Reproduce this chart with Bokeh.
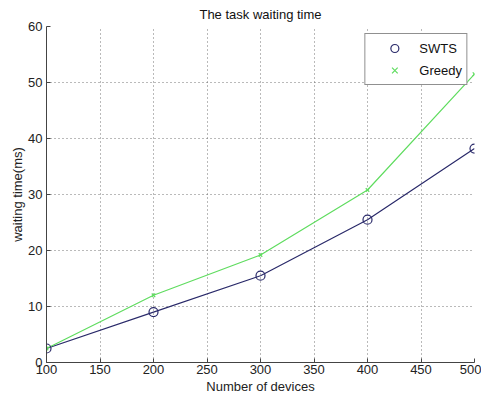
from bokeh.plotting import figure
from bokeh.models import Legend, LegendItem, FixedTicker, Range1d
from bokeh.embed import file_html
from bokeh.resources import INLINE

devices = [100, 200, 300, 400, 500]
swts = [2.5, 9.0, 15.5, 25.5, 38.2]
greedy = [2.5, 12.0, 19.2, 30.8, 51.5]
x_ticks = [100, 150, 200, 250, 300, 350, 400, 450, 500]
y_ticks = [0, 10, 20, 30, 40, 50, 60]

FONT = "Liberation Sans"

p = figure(width=481, height=399, output_backend="svg", toolbar_location=None,
           x_range=Range1d(100, 500), y_range=Range1d(0, 60),
           min_border_left=46, min_border_right=7, min_border_top=0, min_border_bottom=37)

p.title.text = "The task waiting time"
p.title.align = "center"
p.title.text_font = FONT
p.title.text_font_size = "13px"
p.title.text_font_style = "normal"
p.title.text_color = "#111111"
p.title.offset = 0
p.title.padding = 4
p.title.standoff = 1

p.outline_line_color = None
p.background_fill_color = "white"
p.border_fill_color = "white"

for ax in (p.xaxis[0], p.yaxis[0]):
    ax.axis_line_color = "#444444"
    ax.major_tick_line_color = "#444444"
    ax.major_tick_in = 4
    ax.major_tick_out = 0
    ax.minor_tick_line_color = None
    ax.major_label_text_font = FONT
    ax.major_label_text_font_size = "13px"
    ax.major_label_text_color = "#222222"
    ax.axis_label_text_font = FONT
    ax.axis_label_text_font_size = "13px"
    ax.axis_label_text_font_style = "normal"
    ax.axis_label_text_color = "#222222"

p.xaxis.ticker = FixedTicker(ticks=x_ticks)
p.yaxis.ticker = FixedTicker(ticks=y_ticks)
p.xaxis.axis_label = "Number of devices"
p.yaxis.axis_label = "waiting time(ms)"
p.xaxis.major_label_standoff = 2
p.yaxis.major_label_standoff = 4
p.xaxis.axis_label_standoff = 2
p.yaxis.axis_label_standoff = 0

for g in (p.xgrid[0], p.ygrid[0]):
    g.grid_line_color = "#666666"
    g.grid_line_dash = "1 3"
    g.grid_line_width = 1
    g.grid_line_alpha = 0.9

p.line(devices, swts, line_color="#2a2a6a", line_width=1.2)
p.line(devices, greedy, line_color="#5fdc5f", line_width=1.2)
r_swts = p.scatter(devices, swts, marker="circle", size=9, line_color="#2a2a6a",
                   fill_color=None, line_width=1.2)
r_greedy = p.scatter(devices, greedy, marker="x", size=5, line_color="#5fdc5f",
                     line_width=1.2)

legend = Legend(items=[LegendItem(label="SWTS", renderers=[r_swts]),
                       LegendItem(label="Greedy", renderers=[r_greedy])],
                location="top_right", margin=7, padding=4, spacing=2,
                glyph_width=50, glyph_height=20, label_height=20, label_standoff=0,
                label_text_font=FONT, label_text_font_size="13px",
                label_text_color="#111111",
                border_line_color="#222222", border_line_width=1,
                background_fill_color="white", background_fill_alpha=1)
p.add_layout(legend, "center")

open("out.html", "w").write(file_html(p, INLINE))
